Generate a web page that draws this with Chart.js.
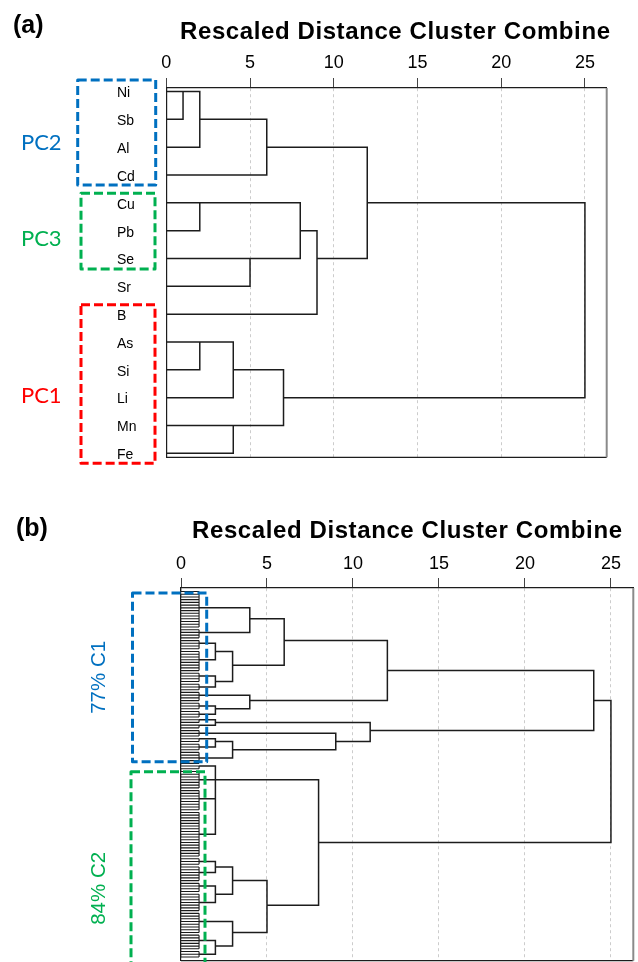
<!DOCTYPE html>
<html lang="en">
<head>
<meta charset="UTF-8">
<title>Rescaled Distance Cluster Combine</title>
<script src="https://cdn.jsdelivr.net/npm/chart.js"></script>
<style>
  body { margin: 0; background: #fff; }
  .page { position: relative; width: 638px; height: 962px; overflow: hidden; font-family: "Liberation Sans", Arial, sans-serif; }
  canvas { position: absolute; left: 0; }
  #chartA { top: 0; }
  #chartB { top: 480px; }
  .tag, .title { position: absolute; font-weight: bold; white-space: nowrap; color: #000; z-index: 2; }
  .tag { font-size: 25px; line-height: 25px; }
  .title { font-size: 24px; line-height: 24px; letter-spacing: 0.6px; }
</style>
</head>
<body>
<div class="page">
  <canvas id="chartA" width="638" height="480"></canvas>
  <canvas id="chartB" width="638" height="482"></canvas>
  <div class="tag" style="left:13px; top:12px;">(a)</div>
  <div class="title" style="left:180px; top:19px;">Rescaled Distance Cluster Combine</div>
  <div class="tag" style="left:16px; top:515px;">(b)</div>
  <div class="title" style="left:192px; top:518px;">Rescaled Distance Cluster Combine</div>
</div>

<script>
    const distanceTicks = [0, 5, 10, 15, 20, 25];
    const distanceMax = 26.3;

    // (a) elements, top to bottom
    const elementLabels = ['Ni', 'Sb', 'Al', 'Cd', 'Cu', 'Pb', 'Se', 'Sr', 'B', 'As', 'Si', 'Li', 'Mn', 'Fe'];
    // [node, node, distance]; node ids after the leaves are earlier merges (14 = first merge)
    const elementMerges = [
        [0, 1, 1], [14, 2, 2], [15, 3, 6], [4, 5, 2], [6, 7, 5], [17, 18, 8], [19, 8, 9],
        [16, 20, 12], [9, 10, 2], [22, 11, 4], [12, 13, 4], [23, 24, 7], [21, 25, 25]
    ];
    const elementGroupNames = ['PC2', 'PC3', 'PC1'];
    const elementGroupLeaves = [[0, 3], [4, 6], [8, 13]];

    // (b) samples: leaves come in blocks already joined near distance 1
    const sampleBlockSizes = [14, 4, 4, 8, 4, 3, 4, 3, 3, 2, 2, 3, 2, 3, 5, 2, 7, 8, 17, 3, 6, 4, 7, 8, 6, 3];
    const sampleBlockJoin = 1.05;
    // node ids 0-25 are blocks, 26+ are merges
    const sampleMerges = [
        [0, 1, 4], [2, 3, 2], [4, 5, 2], [27, 28, 3], [26, 29, 6], [7, 8, 2], [6, 31, 4], [30, 32, 12],
        [9, 10, 2], [12, 13, 2], [35, 14, 3], [11, 36, 9], [34, 37, 11], [33, 38, 24],
        [17, 18, 2], [16, 40, 2], [15, 41, 2], [19, 20, 2], [21, 22, 2], [43, 44, 3],
        [24, 25, 2], [23, 46, 3], [45, 47, 5], [42, 48, 8], [39, 49, 25]
    ];
    const sampleGroupNames = ['77% C1', '84% C2'];
    const sampleGroupLeaves = [[0, 62], [64, 134]];

    const groupColors = {a: ['#0070C0', '#00B050', '#FF0000'], b: ['#0070C0', '#00B050']};
    const lineColor = '#1c1c1c';

    // SPSS style links: a merged cluster sits on the row halfway between its two parts
    function mergeLines(nodes, merges) {
        const pts = [];
        merges.forEach(([a, b, dist]) => {
            const p = nodes[a], q = nodes[b];
            pts.push({x: p.dist, y: p.row}, {x: dist, y: p.row}, {x: dist, y: q.row}, {x: q.dist, y: q.row}, {x: null, y: null});
            nodes.push({row: Math.floor((p.row + q.row) / 2), dist: dist});
        });
        return pts;
    }

    const elementLines = mergeLines(elementLabels.map((_, i) => ({row: i, dist: 0})), elementMerges);

    const blockNodes = [], sampleLeafLines = [];
    let start = 0;
    sampleBlockSizes.forEach(n => {
        const end = start + n - 1;
        for (let i = start; i <= end; i++) {
            sampleLeafLines.push({x: 0, y: i}, {x: sampleBlockJoin, y: i}, {x: null, y: null});
        }
        sampleLeafLines.push({x: sampleBlockJoin, y: start}, {x: sampleBlockJoin, y: end}, {x: null, y: null});
        blockNodes.push({row: Math.floor((start + end) / 2), dist: sampleBlockJoin});
        start = end + 1;
    });
    const sampleLines = mergeLines(blockNodes, sampleMerges);

    // bottom and right edges of the plot box
    const frame = {
        id: 'frame',
        beforeDatasetsDraw(chart) {
            const {ctx, chartArea: a} = chart;
            ctx.save();
            ctx.strokeStyle = lineColor;
            ctx.lineWidth = 1.2;
            ctx.beginPath(); ctx.moveTo(a.left, a.bottom); ctx.lineTo(a.right, a.bottom); ctx.stroke();
            ctx.strokeStyle = '#8a8a8a';
            ctx.lineWidth = 2;
            ctx.beginPath(); ctx.moveTo(a.right, a.top); ctx.lineTo(a.right, a.bottom); ctx.stroke();
            ctx.restore();
        }
    };

    // dashed boxes round the leaf groups, with their names
    function groupBoxes(names, leaves, colors, st) {
        return {
            id: 'groupBoxes',
            afterDraw(chart) {
                const {ctx, chartArea, scales: {y}} = chart;
                names.forEach((name, i) => {
                    const top = y.getPixelForValue(leaves[i][0]) + st.pad[i][0];
                    const bottom = y.getPixelForValue(leaves[i][1]) + st.pad[i][1];
                    const left = chartArea.left + st.x[i][0], right = chartArea.left + st.x[i][1];
                    ctx.save();
                    ctx.strokeStyle = colors[i];
                    ctx.lineWidth = 3;
                    ctx.lineJoin = 'round';
                    ctx.setLineDash([9, 4]);
                    ctx.strokeRect(left, top, right - left, bottom - top);
                    ctx.setLineDash([]);
                    ctx.fillStyle = colors[i];
                    ctx.font = st.font;
                    ctx.textAlign = 'center';
                    ctx.textBaseline = 'middle';
                    ctx.translate(chartArea.left + st.labelX, (top + bottom) / 2 + st.labelDy[i]);
                    if (st.vertical) ctx.rotate(-Math.PI / 2);
                    ctx.fillText(name, 0, 0);
                    ctx.restore();
                });
            }
        };
    }

    function distanceAxis(height, pad) {
        return {
            type: 'linear',
            position: 'top',
            min: 0,
            max: distanceMax,
            afterBuildTicks: s => { s.ticks = distanceTicks.map(v => ({value: v})); },
            afterFit: s => { s.height = height; },
            ticks: {font: {family: 'Liberation Sans', size: 18}, color: '#000', padding: pad, maxRotation: 0},
            grid: {color: '#cccccc', lineWidth: 1, tickLength: 10, tickColor: '#444', tickWidth: 1},
            border: {color: lineColor, width: 1.2, dash: [3, 3]}
        };
    }

    const lineStyle = {showLine: true, borderColor: lineColor, borderWidth: 1.5, pointRadius: 0, spanGaps: false};
    const quiet = {legend: {display: false}, tooltip: {enabled: false}};

    new Chart(document.getElementById('chartA'), {
        type: 'scatter',
        data: {datasets: [Object.assign({data: elementLines}, lineStyle)]},
        options: {
            responsive: false,
            animation: false,
            layout: {padding: {left: 117, right: 31.3, top: 0, bottom: 22.7}},
            plugins: quiet,
            scales: {
                x: distanceAxis(88, 4),
                y: {
                    type: 'linear',
                    reverse: true,
                    min: -0.126,
                    max: 13.144,
                    afterBuildTicks: s => { s.ticks = elementLabels.map((_, i) => ({value: i})); },
                    afterFit: s => { s.width = 49.3; },
                    ticks: {
                        autoSkip: false, crossAlign: 'far', padding: 0, labelOffset: 2, color: '#000',
                        font: {family: 'Liberation Sans', size: 14},
                        callback: v => elementLabels[v]
                    },
                    grid: {display: false},
                    border: {color: lineColor, width: 1.2}
                }
            }
        },
        plugins: [frame, groupBoxes(elementGroupNames, elementGroupLeaves, groupColors.a, {
            x: [[-88.6, -10.6], [-85.3, -11.3], [-85.3, -11.3]],
            pad: [[-11.5, 10], [-9.5, 10.5], [-9.5, 10]],
            labelX: -125,
            labelDy: [10.5, 7.5, 11.5],
            font: '22px Lato',
            vertical: false
        })]
    });

    new Chart(document.getElementById('chartB'), {
        type: 'scatter',
        data: {
            datasets: [
                Object.assign({}, lineStyle, {data: sampleLeafLines, borderWidth: 1.1, borderColor: '#1a1a1a'}),
                Object.assign({data: sampleLines}, lineStyle)
            ]
        },
        options: {
            responsive: false,
            animation: false,
            layout: {padding: {left: 181, right: 4.7, top: 0, bottom: 1.3}},
            plugins: quiet,
            scales: {
                x: distanceAxis(108, 3),
                y: {
                    type: 'linear',
                    reverse: true,
                    min: -1.28,
                    max: 135.36,
                    afterFit: s => { s.width = 0; },
                    ticks: {display: false},
                    grid: {display: false},
                    border: {color: lineColor, width: 1.2}
                }
            }
        },
        plugins: [frame, groupBoxes(sampleGroupNames, sampleGroupLeaves, groupColors.b, {
            x: [[-48.5, 25.7], [-50, 24]],
            pad: [[1.5, 1.1], [5.6, 48]],
            labelX: -82,
            labelDy: [0, 0],
            font: '20.5px "Liberation Sans"',
            vertical: true
        })]
    });
</script>
</body>
</html>
